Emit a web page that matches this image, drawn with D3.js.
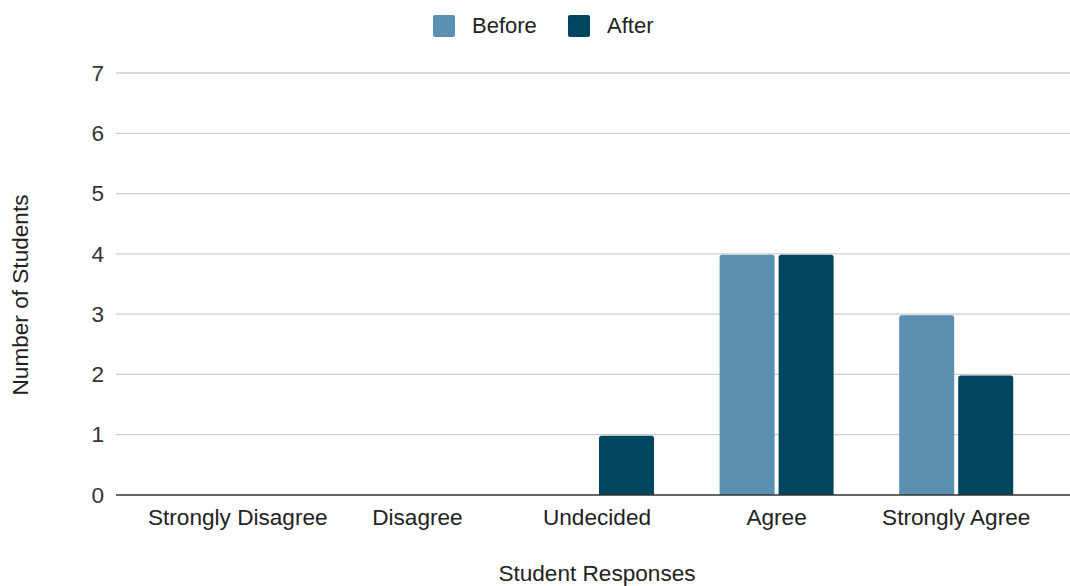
<!DOCTYPE html>
<html>
<head>
<meta charset="utf-8">
<script src="https://cdn.jsdelivr.net/npm/d3@7"></script>
<style>
  html, body { margin: 0; padding: 0; background: #fff; }
  svg { display: block; font-family: "Liberation Sans", Arial, sans-serif; }
</style>
</head>
<body>
<svg id="chart" width="1070" height="586"></svg>
<script>
const categories = ["Strongly Disagree", "Disagree", "Undecided", "Agree", "Strongly Agree"];
const seriesNames = ["Before", "After"];
const beforeValues = [0, 0, 0, 4, 3];
const afterValues = [0, 0, 1, 4, 2];
const yTicks = [0, 1, 2, 3, 4, 5, 6, 7];
const colors = ["#5a91b0", "#01455f"];

const svg = d3.select("#chart");
const plotLeft = 116, plotRight = 1070, plotTop = 73, plotBottom = 495;
const FS = 22.6;

const x = d3.scaleBand().domain(categories).range([148, 1046]).paddingInner(0).paddingOuter(0);
const groupW = 114;
const xs = d3.scaleBand().domain(seriesNames)
  .range([(x.bandwidth() - groupW) / 2, (x.bandwidth() + groupW) / 2])
  .paddingInner(4 / 59).paddingOuter(0);
const y = d3.scaleLinear().domain([0, 7]).range([plotBottom, plotTop]);

// gridlines
svg.append("g").selectAll("line").data(yTicks.filter(d => d !== 0)).join("line")
  .attr("x1", plotLeft).attr("x2", plotRight)
  .attr("y1", d => y(d)).attr("y2", d => y(d))
  .attr("stroke", "#cccccc").attr("stroke-width", 1.3);

// y tick labels via axis
const yAxis = d3.axisLeft(y).tickValues(yTicks).tickSize(0).tickPadding(0).tickFormat(d3.format("d"));
const gy = svg.append("g").attr("transform", `translate(104,0)`).call(yAxis);
gy.select(".domain").remove();
gy.attr("font-size", null).attr("font-family", null);
gy.selectAll("text").attr("font-size", FS).attr("fill", "#333");

// bars
const data = categories.map((c, i) => ({ cat: c, vals: [beforeValues[i], afterValues[i]] }));
const groups = svg.append("g").selectAll("g").data(data).join("g")
  .attr("transform", d => `translate(${x(d.cat)},0)`);
groups.selectAll("path").data(d => d.vals.map((v, j) => ({ v, s: seriesNames[j], j })).filter(e => e.v > 0)).join("path")
  .attr("fill", e => colors[e.j])
  .attr("d", e => {
    const x0 = xs(e.s), w = xs.bandwidth(), y0 = y(e.v) + 1, y1 = y(0), r = 2.5;
    return `M${x0},${y1} L${x0},${y0 + r} Q${x0},${y0} ${x0 + r},${y0} L${x0 + w - r},${y0} Q${x0 + w},${y0} ${x0 + w},${y0 + r} L${x0 + w},${y1} Z`;
  });

// baseline
svg.append("line").attr("x1", plotLeft).attr("x2", plotRight)
  .attr("y1", y(0)).attr("y2", y(0)).attr("stroke", "#333").attr("stroke-width", 1.5);

// x axis labels
const xAxis = d3.axisBottom(x).tickSize(0).tickPadding(0);
const gx = svg.append("g").attr("transform", `translate(0,${plotBottom})`).call(xAxis);
gx.select(".domain").remove();
gx.attr("font-size", null).attr("font-family", null);
gx.selectAll("text").attr("font-size", FS).attr("fill", "#222").attr("dy", null).attr("y", 30);

// axis titles
svg.append("text").attr("x", 597).attr("y", 581).attr("text-anchor", "middle")
  .attr("font-size", FS).attr("fill", "#222").text("Student Responses");
svg.append("text").attr("transform", "translate(28,295) rotate(-90)").attr("text-anchor", "middle")
  .attr("font-size", FS).attr("fill", "#222").text("Number of Students");

// legend
const legendItems = [{ name: "Before", sx: 433, tx: 472 }, { name: "After", sx: 568, tx: 607 }];
const lg = svg.append("g").selectAll("g").data(legendItems).join("g");
lg.append("rect").attr("x", d => d.sx).attr("y", 15).attr("width", 22).attr("height", 22).attr("rx", 2)
  .attr("fill", (d, i) => colors[i]);
lg.append("text").attr("x", d => d.tx).attr("y", 33).attr("font-size", 22).attr("fill", "#222").text(d => d.name);
</script>
</body>
</html>
